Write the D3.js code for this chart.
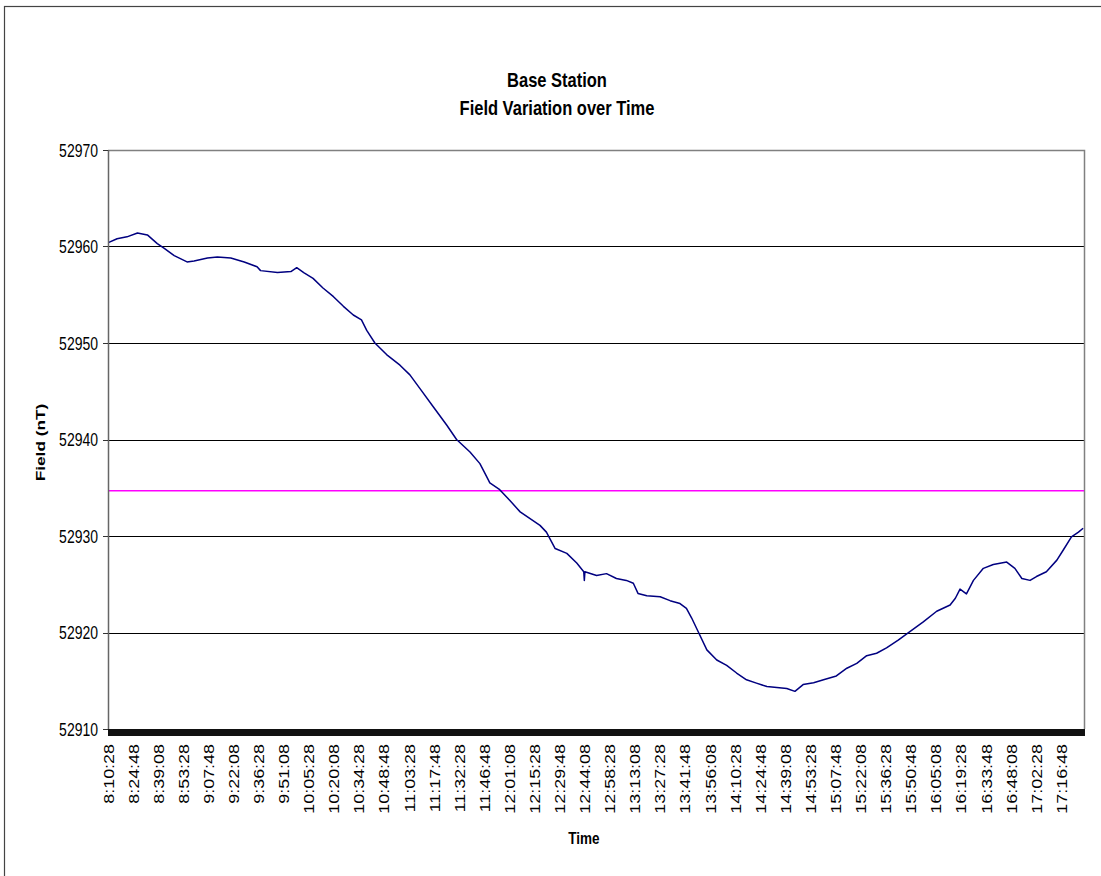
<!DOCTYPE html>
<html>
<head>
<meta charset="utf-8">
<script src="https://cdn.jsdelivr.net/npm/d3@7"></script>
<style>
  html, body { margin: 0; padding: 0; background: #fff; }
  svg { display: block; font-family: "Liberation Sans", Arial, sans-serif; }
</style>
</head>
<body>
<svg id="chart" width="1101" height="876"></svg>
<script>
// ---------------- data ----------------
const titleLines = ["Base Station", "Field Variation over Time"];
const yAxisTitle = "Field (nT)";
const xAxisTitle = "Time";

const timeLabels = [
  "8:10:28","8:24:48","8:39:08","8:53:28","9:07:48","9:22:08","9:36:28","9:51:08",
  "10:05:28","10:20:08","10:34:28","10:48:48","11:03:28","11:17:48","11:32:28","11:46:48",
  "12:01:08","12:15:28","12:29:48","12:44:08","12:58:28","13:13:08","13:27:28","13:41:48",
  "13:56:08","14:10:28","14:24:48","14:39:08","14:53:28","15:07:48","15:22:08","15:36:28",
  "15:50:48","16:05:08","16:19:28","16:33:48","16:48:08","17:02:28","17:16:48"
];
const labelEvery = 43;        // samples between two time labels
const sampleCount = 1673;     // number of samples (categories) on the time axis

const yTicks = [52910, 52920, 52930, 52940, 52950, 52960, 52970];
const gridValues = [52920, 52930, 52940, 52950, 52960];
const referenceLevel = 52934.7;

// sample index of each reading, and the field reading (nT)
const sampleIndex = [
  0, 15, 32, 50, 67, 84, 96, 113, 135, 147, 170, 187, 210, 233, 255, 261, 290, 313, 323, 335,
  351, 368, 386, 403, 420, 434, 443, 457, 477, 500, 517, 534, 557, 580, 597, 620, 637, 649, 654, 671,
  688, 706, 723, 740, 751, 766, 786, 803, 815, 816, 817, 837, 854, 871, 888, 900, 908, 923, 946, 963,
  980, 991, 1000, 1011, 1026, 1043, 1060, 1077, 1094, 1111, 1129, 1146, 1163, 1177, 1191, 1209, 1226, 1248, 1266, 1283,
  1300, 1317, 1334, 1354, 1374, 1397, 1420, 1443, 1452, 1460, 1471, 1483, 1500, 1517, 1540, 1554, 1566, 1580, 1591, 1608,
  1626, 1637, 1651, 1663, 1671
];
const fieldNT = [
  52960.4, 52960.8, 52961.0, 52961.4, 52961.2, 52960.3, 52959.8, 52959.05, 52958.4, 52958.5, 52958.8, 52958.9, 52958.8, 52958.4, 52957.9, 52957.5, 52957.3, 52957.4, 52957.8, 52957.3,
  52956.7, 52955.7, 52954.8, 52953.8, 52952.9, 52952.4, 52951.3, 52950.0, 52948.8, 52947.7, 52946.7, 52945.3, 52943.4, 52941.5, 52940.0, 52938.7, 52937.5, 52936.1, 52935.5, 52934.8,
  52933.7, 52932.5, 52931.8, 52931.1, 52930.4, 52928.7, 52928.2, 52927.2, 52926.3, 52925.4, 52926.3, 52925.9, 52926.1, 52925.6, 52925.4, 52925.1, 52924.05, 52923.8, 52923.7, 52923.3,
  52923.0, 52922.5, 52921.5, 52920.1, 52918.2, 52917.15, 52916.6, 52915.8, 52915.1, 52914.75, 52914.4, 52914.3, 52914.2, 52913.9, 52914.6, 52914.8, 52915.1, 52915.5, 52916.3, 52916.8,
  52917.6, 52917.85, 52918.4, 52919.2, 52920.1, 52921.1, 52922.2, 52922.85, 52923.55, 52924.5, 52924.0, 52925.4, 52926.65, 52927.05, 52927.3, 52926.65, 52925.6, 52925.4, 52925.8, 52926.3,
  52927.5, 52928.55, 52929.9, 52930.4, 52930.8
];

// ---------------- layout ----------------
const plot = { left: 108, right: 1084, top: 150, bottom: 729 };
const vStretch = 1.28; // text is drawn taller than wide in the reference

const svg = d3.select("#chart");

// outer frame (only top/left edges visible)
svg.append("rect")
  .attr("x", 4.5).attr("y", 6.5).attr("width", 1200).attr("height", 1000)
  .attr("fill", "none").attr("stroke", "#444").attr("stroke-width", 1.2);

const x = d3.scaleLinear().domain([0, sampleCount]).range([plot.left, plot.right]);
const y = d3.scaleLinear().domain([52910, 52970]).range([plot.bottom, plot.top]);

// gridlines
svg.append("g").selectAll("line").data(gridValues).join("line")
  .attr("x1", plot.left).attr("x2", plot.right)
  .attr("y1", d => Math.round(y(d)) + 0.5).attr("y2", d => Math.round(y(d)) + 0.5)
  .attr("stroke", "#000").attr("stroke-width", 1);

// plot frame top/right
svg.append("path")
  .attr("d", `M${plot.left},${plot.top + 0.5}H${plot.right + 0.5}V${plot.bottom}`)
  .attr("fill", "none").attr("stroke", "#808080").attr("stroke-width", 1.5);

// reference level
svg.append("line")
  .attr("x1", plot.left).attr("x2", plot.right)
  .attr("y1", y(referenceLevel)).attr("y2", y(referenceLevel))
  .attr("stroke", "#ff00ff").attr("stroke-width", 1.5);

// data line
const pts = sampleIndex.map((s, i) => [s, fieldNT[i]]);
svg.append("path")
  .datum(pts)
  .attr("d", d3.line().x(d => x(d[0] + 0.5)).y(d => y(d[1])))
  .attr("fill", "none").attr("stroke", "#000080").attr("stroke-width", 1.5)
  .attr("stroke-linejoin", "round");

// y axis
const yAxisG = svg.append("g").attr("transform", `translate(${plot.left},0)`);
yAxisG.append("line").attr("x1", 0.5).attr("x2", 0.5).attr("y1", plot.top).attr("y2", plot.bottom)
  .attr("stroke", "#666").attr("stroke-width", 1.5);
yAxisG.selectAll("line.tick").data(yTicks).join("line").attr("class", "tick")
  .attr("x1", -5).attr("x2", 0)
  .attr("y1", d => Math.round(y(d)) + 0.5).attr("y2", d => Math.round(y(d)) + 0.5)
  .attr("stroke", "#333");
yAxisG.selectAll("text").data(yTicks).join("text")
  .attr("transform", d => `translate(-10,${y(d)}) scale(1,${vStretch})`)
  .attr("text-anchor", "end").attr("dominant-baseline", "central")
  .attr("font-size", 14).attr("fill", "#000")
  .text(d => d);

// x axis: one tick per sample -> dense band
const xAxisG = svg.append("g");
xAxisG.append("line").attr("x1", plot.left).attr("x2", plot.right + 1)
  .attr("y1", plot.bottom + 0.5).attr("y2", plot.bottom + 0.5).attr("stroke", "#000");
xAxisG.append("g").attr("shape-rendering", "crispEdges")
  .selectAll("line").data(d3.range(sampleCount + 1)).join("line")
  .attr("x1", d => x(d)).attr("x2", d => x(d))
  .attr("y1", plot.bottom).attr("y2", plot.bottom + 7)
  .attr("stroke", "#111").attr("stroke-width", 1);

xAxisG.selectAll("text").data(timeLabels).join("text")
  .attr("transform", (d, i) => `translate(${x(i * labelEvery + 0.5)},744) rotate(-90) scale(${vStretch},1)`)
  .attr("text-anchor", "end").attr("dominant-baseline", "central")
  .attr("font-size", 14).attr("fill", "#000")
  .text(d => d);

// titles
const titleG = svg.append("g").attr("font-weight", "bold").attr("fill", "#000");
titleG.selectAll("text").data(titleLines).join("text")
  .attr("transform", (d, i) => `translate(557,${80 + i * 28}) scale(1,${vStretch})`)
  .attr("text-anchor", "middle").attr("dominant-baseline", "central")
  .attr("font-size", 16.5)
  .text(d => d);

titleG.append("text")
  .attr("transform", `translate(40,${(plot.top + plot.bottom) / 2 + 3}) rotate(-90) scale(${vStretch},1)`)
  .attr("text-anchor", "middle").attr("dominant-baseline", "central")
  .attr("font-size", 13.5)
  .text(yAxisTitle);

titleG.append("text")
  .attr("transform", `translate(584,838) scale(1,${vStretch})`)
  .attr("text-anchor", "middle").attr("dominant-baseline", "central")
  .attr("font-size", 13.5)
  .text(xAxisTitle);
</script>
</body>
</html>
